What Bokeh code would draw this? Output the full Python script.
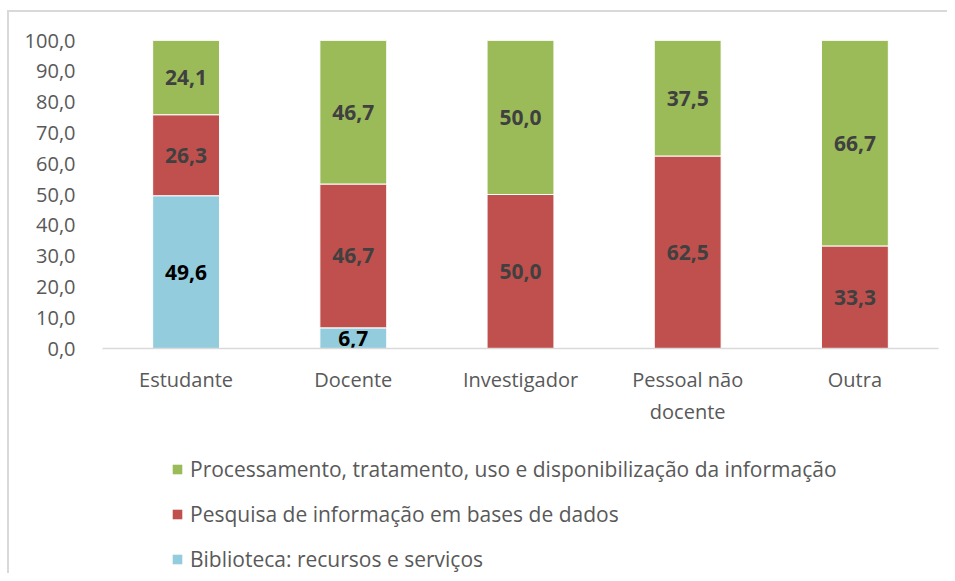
import numpy as np
from bokeh.plotting import figure
from bokeh.layouts import column
from bokeh.models import (ColumnDataSource, FactorRange, Range1d, Legend, LegendItem,
                          CustomJSTickFormatter, FixedTicker)
from bokeh.core.properties import value
from bokeh.embed import file_html
from bokeh.resources import INLINE

categories = ["Estudante", "Docente", "Investigador", "Pessoal não\ndocente", "Outra"]
biblioteca = [49.6, 6.7, 0.0, 0.0, 0.0]
pesquisa = [26.3, 46.7, 50.0, 62.5, 33.3]
processamento = [24.1, 46.7, 50.0, 37.5, 66.7]
series_keys = ["biblioteca", "pesquisa", "processamento"]
series_names = ["Biblioteca: recursos e serviços",
                "Pesquisa de informação em bases de dados",
                "Processamento, tratamento, uso e disponibilização da informação"]
y_ticks = [0, 10, 20, 30, 40, 50, 60, 70, 80, 90, 100]

colors = ["#93CDDD", "#C0504D", "#9BBB59"]
label_colors = ["#000000", "#404040", "#404040"]
FONT = "Open Sans"

W = 947
H1 = 440
H2 = 133

source = ColumnDataSource(dict(x=categories, biblioteca=biblioteca,
                               pesquisa=pesquisa, processamento=processamento))

p = figure(x_range=FactorRange(*categories), y_range=Range1d(0, 100),
           width=W, height=H1, output_backend="svg", toolbar_location=None,
           min_border_left=102, min_border_right=9, min_border_top=40,
           min_border_bottom=92)
p.border_fill_color = None

renderers = p.vbar_stack(series_keys, x="x", width=0.4, color=colors,
                         line_color="white", line_width=1, source=source)

# segment labels
lx, ly, lt, lc = [], [], [], []
series_vals = [biblioteca, pesquisa, processamento]
for i, cat in enumerate(categories):
    bottom = 0.0
    for s, vals in enumerate(series_vals):
        v = vals[i]
        if v > 0:
            lx.append(cat)
            ly.append(bottom + v / 2)
            lt.append(f"{v:.1f}".replace(".", ","))
            lc.append(label_colors[s])
        bottom += v
lsrc = ColumnDataSource(dict(x=lx, y=ly, t=lt, c=lc))
p.text(x="x", y="y", text="t", text_color="c", source=lsrc,
       text_align="center", text_baseline="middle",
       text_font=value(FONT), text_font_style="bold", text_font_size="21px")

p.xgrid.grid_line_color = None
p.ygrid.grid_line_color = None
p.outline_line_color = None

p.yaxis.ticker = FixedTicker(ticks=y_ticks)
p.yaxis.formatter = CustomJSTickFormatter(code="return tick.toFixed(1).replace('.', ',');")
p.yaxis.axis_line_color = None
p.yaxis.major_tick_line_color = None
p.yaxis.minor_tick_line_color = None
p.yaxis.major_label_standoff = 21
p.yaxis.major_label_text_font = FONT
p.yaxis.major_label_text_font_size = "20px"
p.yaxis.major_label_text_color = "#595959"

p.xaxis.axis_line_color = "#d9d9d9"
p.xaxis.axis_line_width = 1.5
p.xaxis.major_tick_line_color = None
p.xaxis.major_label_standoff = 11
p.xaxis.major_label_text_font = FONT
p.xaxis.major_label_text_font_size = "20px"
p.xaxis.major_label_text_color = "#595959"

# legend panel (separate figure below the chart; its frame aligns with the chart's)
lg = figure(width=W, height=H2, output_backend="svg", toolbar_location=None,
            x_range=Range1d(0, 1), y_range=Range1d(0, 1),
            x_axis_location=None, y_axis_location=None,
            min_border_left=0, min_border_right=0, min_border_top=0,
            min_border_bottom=0)
lg.border_fill_color = None
lg.background_fill_color = None
lg.xgrid.grid_line_color = None
lg.ygrid.grid_line_color = None
lg.outline_line_color = None
swatch = ColumnDataSource(dict(x=np.array([np.nan]), top=np.array([np.nan])))
dummies = [lg.vbar(x="x", top="top", width=0.1, color=c, line_color=None, source=swatch)
           for c in colors]
items = [LegendItem(label=series_names[k], renderers=[dummies[k]]) for k in (2, 1, 0)]
legend = Legend(items=items, location=(69, 0), orientation="vertical",
                label_text_font=FONT, label_text_font_size="21px",
                label_text_color="#595959", glyph_width=12, glyph_height=12,
                label_height=20, spacing=17, padding=0, margin=0,
                label_standoff=7, background_fill_alpha=0, border_line_color=None)
lg.add_layout(legend)

layout = column(p, lg, spacing=0)
layout.styles = {
    "background": ("linear-gradient(#d9d9d9,#d9d9d9) 7px 10px / 2px 100% no-repeat, "
                   "linear-gradient(#d9d9d9,#d9d9d9) 7px 10px / 100% 2px no-repeat, white"),
}

open("out.html", "w").write(file_html(layout, INLINE))
